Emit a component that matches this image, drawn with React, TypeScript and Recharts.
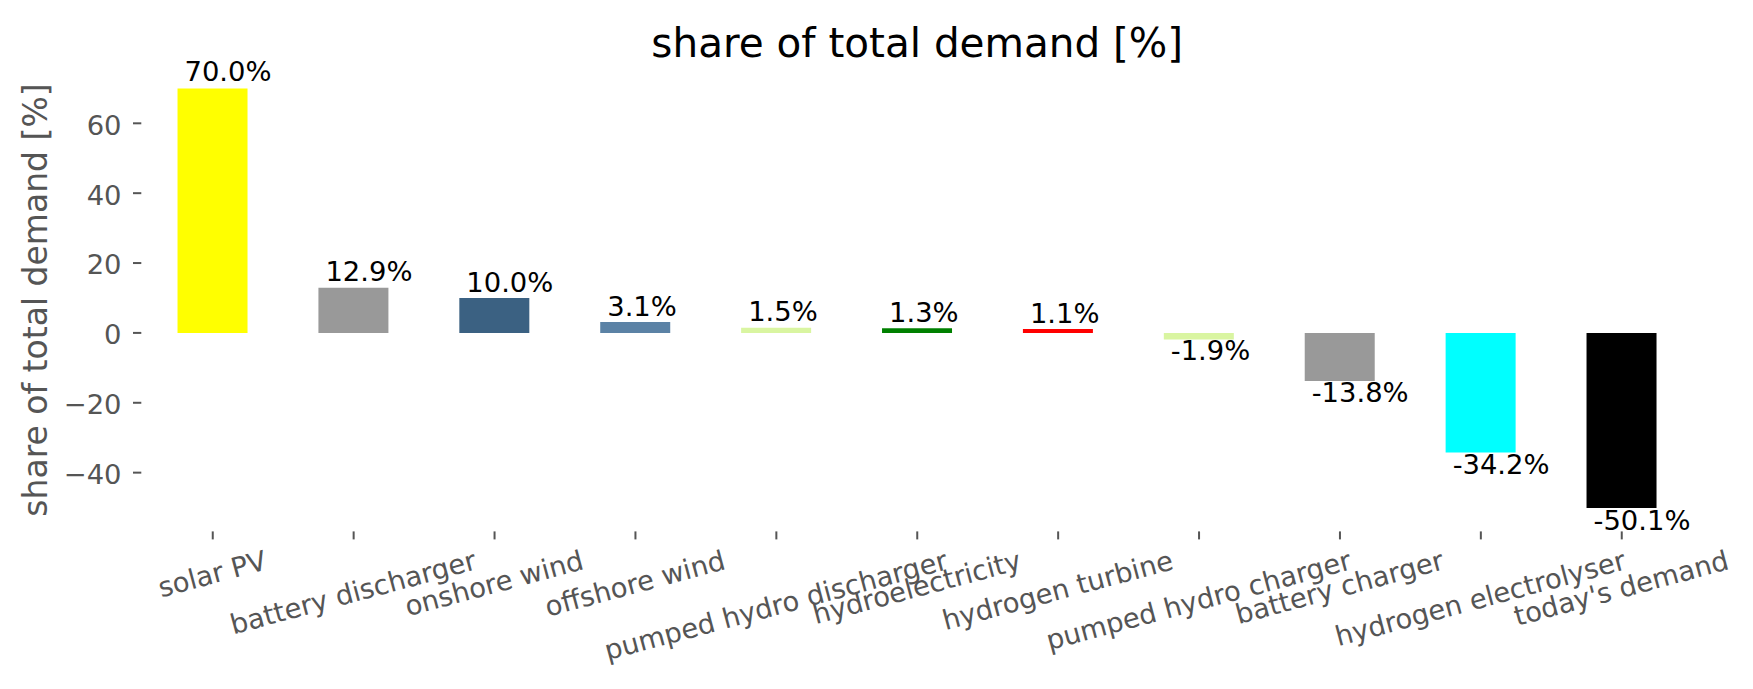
import React from 'react';
import { BarChart, Bar, XAxis, YAxis, Cell, LabelList } from 'recharts';

const categories = [
  'solar PV',
  'battery discharger',
  'onshore wind',
  'offshore wind',
  'pumped hydro discharger',
  'hydroelectricity',
  'hydrogen turbine',
  'pumped hydro charger',
  'battery charger',
  'hydrogen electrolyser',
  "today's demand",
];
const values = [70.0, 12.9, 10.0, 3.1, 1.5, 1.3, 1.1, -1.9, -13.8, -34.2, -50.1];
const colors = [
  '#ffff00',
  '#999999',
  '#3b6182',
  '#5b82a5',
  '#d9f5a1',
  '#008000',
  '#ff0000',
  '#d9f5a1',
  '#999999',
  '#00ffff',
  '#000000',
];
const yTicks = [-40, -20, 0, 20, 40, 60];
const yDomain = [-56.105, 76.005];
const titleText = 'share of total demand [%]';
const yLabelText = 'share of total demand [%]';

const data = categories.map((name, i) => ({ name, value: values[i], color: colors[i] }));

const W = 1753;
const H = 689;
const PLOT_LEFT = 142.3;
const PLOT_RIGHT = 1692.2;
const PLOT_TOP = 67.4;
const PLOT_BOTTOM = 528.9;
const FONT = 'DejaVu Sans';
const FS = 27.4;
const GRAY = '#555555';

let canvasCtx: CanvasRenderingContext2D | null = null;
function measure(text: string, size: number): number {
  if (typeof document !== 'undefined') {
    if (!canvasCtx) {
      const c = document.createElement('canvas');
      canvasCtx = c.getContext('2d');
    }
    if (canvasCtx) {
      canvasCtx.font = `${size}px "${FONT}"`;
      return canvasCtx.measureText(text).width;
    }
  }
  return text.length * size * 0.6;
}

const SIN = Math.sin((15 * Math.PI) / 180);
const COS = Math.cos((15 * Math.PI) / 180);

const XTick = (props: any) => {
  const { x, payload } = props;
  const label = String(payload.value);
  const w = measure(label, FS);
  const h = FS * 0.97;
  const bboxH = w * SIN + h * COS;
  const top = PLOT_BOTTOM + 2.5 + 8 + 9.3;
  const cy = top + bboxH / 2;
  return (
    <g>
      <line x1={x} x2={x} y1={PLOT_BOTTOM + 2.5} y2={PLOT_BOTTOM + 10.5} stroke={GRAY} strokeWidth={2} />
      <g transform={`translate(${x},${cy}) rotate(-15)`}>
        <text x={0} y={FS * 0.275} textAnchor="middle" fontSize={FS} fill={GRAY} fontFamily={FONT}>
          {label}
        </text>
      </g>
    </g>
  );
};

const YTick = (props: any) => {
  const { y, payload } = props;
  const v = Number(payload.value);
  const label = v < 0 ? `\u2212${Math.abs(v)}` : `${v}`;
  return (
    <g>
      <line x1={PLOT_LEFT - 9.3} x2={PLOT_LEFT - 1} y1={y} y2={y} stroke={GRAY} strokeWidth={2} />
      <text x={121.5} y={y + 11.4} textAnchor="end" fontSize={FS} fill={GRAY} fontFamily={FONT}>
        {label}
      </text>
    </g>
  );
};

const ValueLabel = (props: any) => {
  const { x, y, width, height, value } = props;
  const v = Number(value);
  const top = Math.min(Number(y), Number(y) + Number(height));
  const bottom = Math.max(Number(y), Number(y) + Number(height));
  const left = Math.min(Number(x), Number(x) + Number(width));
  const tx = left + 7;
  const ty = v >= 0 ? top - 6.3 - v * 0.0175 : bottom + 20.8 + Math.abs(v) * 0.0175;
  return (
    <text x={tx} y={ty} fontSize={FS} fill="#000000" fontFamily={FONT}>
      {`${v.toFixed(1)}%`}
    </text>
  );
};

export default function App() {
  return (
    <div style={{ position: 'absolute', left: 0, top: 0, width: W, height: H, background: '#ffffff' }}>
      <BarChart
        width={W}
        height={H}
        data={data}
        margin={{ top: PLOT_TOP, right: W - PLOT_RIGHT, bottom: 0, left: 0 }}
        barCategoryGap="25%"
      >
        <XAxis
          dataKey="name"
          type="category"
          height={H - PLOT_BOTTOM}
          axisLine={false}
          tickLine={false}
          tick={<XTick />}
          interval={0}
          padding={{ left: 0, right: 0 }}
        />
        <YAxis
          type="number"
          width={PLOT_LEFT}
          domain={yDomain}
          ticks={yTicks}
          allowDataOverflow
          axisLine={false}
          tickLine={false}
          tick={<YTick />}
          interval={0}
        />
        <Bar dataKey="value" isAnimationActive={false}>
          {data.map((d, i) => (
            <Cell key={`c-${i}`} fill={d.color} />
          ))}
          <LabelList dataKey="value" content={<ValueLabel />} />
        </Bar>
      </BarChart>
      <svg
        width={W}
        height={H}
        style={{ position: 'absolute', left: 0, top: 0, pointerEvents: 'none' }}
      >
        <text
          x={(PLOT_LEFT + PLOT_RIGHT) / 2}
          y={56.5}
          textAnchor="middle"
          fontSize={40.5}
          fill="#000000"
          fontFamily={FONT}
        >
          {titleText}
        </text>
        <g transform={`translate(46.5,300) rotate(-90)`}>
          <text x={0} y={0} textAnchor="middle" fontSize={33} fill={GRAY} fontFamily={FONT}>
            {yLabelText}
          </text>
        </g>
      </svg>
    </div>
  );
}
